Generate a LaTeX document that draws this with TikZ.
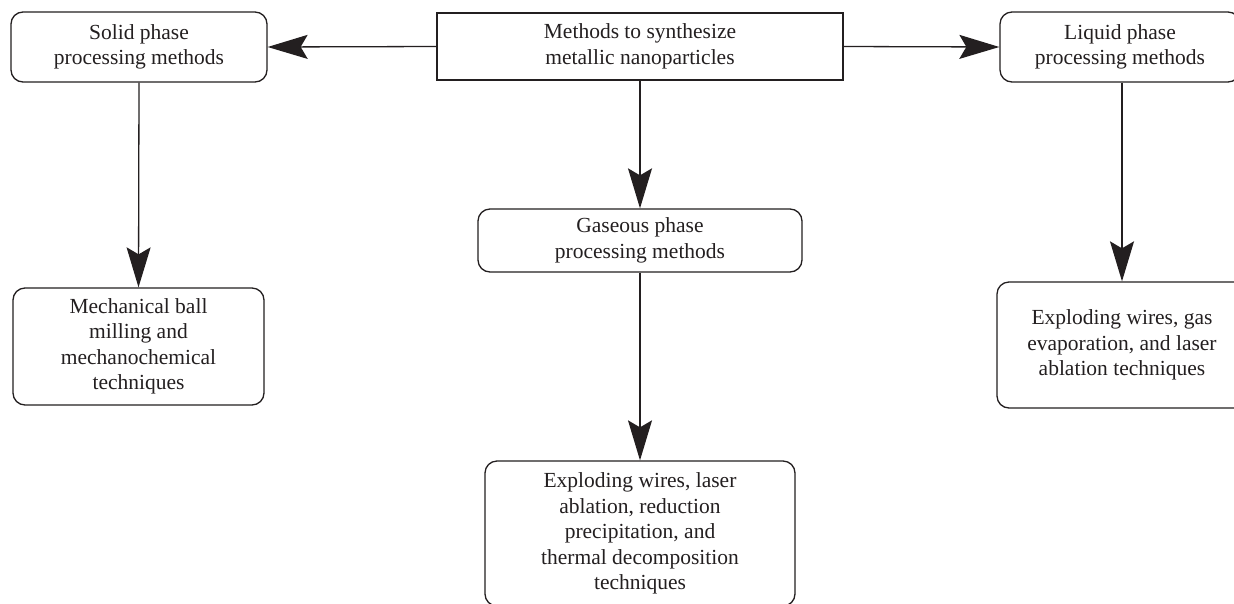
\documentclass[tikz,border=0pt]{standalone}
\usepackage{fontspec}
\setmainfont{Liberation Serif}
\usetikzlibrary{arrows.meta}
\definecolor{ink}{HTML}{231F20}
\begin{document}
\begin{tikzpicture}[x=1pt,y=-1pt,
  base/.style={draw=ink, text=ink, line width=1.3pt, align=center, inner sep=0pt,
    font=\fontsize{21.5}{25.5}\selectfont},
  rbox/.style={base, rounded corners=12pt},
  sbox/.style={base},
  arr/.style={draw=ink, line width=1.3pt, -{Stealth[length=40pt, width=24pt, inset=7pt]}}]
\useasboundingbox (0,0) rectangle (1234,603);
\fill[white] (0,0) rectangle (1234,603);
\clip (0,0) rectangle (1234,603);
\node[sbox, minimum width=406, minimum height=67] (main) at (640,46.5) {Methods to synthesize\\metallic nanoparticles};
\node[rbox, minimum width=256, minimum height=70] (solid) at (139,47) {Solid phase\\processing methods};
\node[rbox, minimum width=240, minimum height=70] (liquid) at (1120,47) {Liquid phase\\processing methods};
\node[rbox, minimum width=251, minimum height=117] (mech) at (138.5,346.5) {Mechanical ball\\milling and\\mechanochemical\\techniques};
\node[rbox, minimum width=324, minimum height=63] (gas) at (640,240.5) {Gaseous phase\\processing methods};
\node[rbox, minimum width=310, minimum height=145] (bottom) at (640,533.5) {Exploding wires, laser\\ablation, reduction\\precipitation, and\\thermal decomposition\\techniques};
\node[rbox, minimum width=250, minimum height=126] (rl) at (1122,345) {Exploding wires, gas\\evaporation, and laser\\ablation techniques};
\draw[arr] (main.west) -- (solid.east);
\draw[arr] (main.east) -- (liquid.west);
\draw[arr] (solid.south) -- (mech.north);
\draw[arr] (main.south) -- (gas.north);
\draw[arr] (gas.south) -- (bottom.north);
\draw[arr] (rl.north |- liquid.south) -- (rl.north);
\end{tikzpicture}
\end{document}
